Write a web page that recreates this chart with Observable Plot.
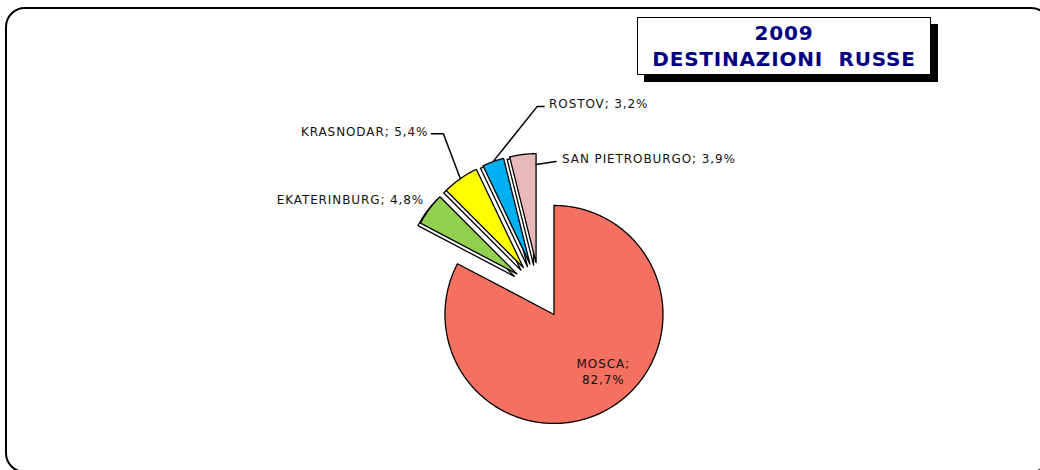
<!DOCTYPE html>
<html>
<head>
<meta charset="utf-8">
<script src="https://cdn.jsdelivr.net/npm/d3@7"></script>
<script src="https://cdn.jsdelivr.net/npm/@observablehq/plot@0.6"></script>
<style>
  html, body { margin: 0; padding: 0; background: #fff; overflow: hidden; }
  body { width: 1040px; height: 470px; position: relative; }
  #frame { position: absolute; left: 5px; top: 7px; width: 1046px; height: 466px;
           border: 2px solid #000; border-radius: 20px; box-sizing: border-box; }
  #chart { position: absolute; left: 0; top: 0; }
  #chart svg text { letter-spacing: 0.9px; }
  #title { position: absolute; left: 637px; top: 17px; width: 294px; height: 58px;
           box-sizing: border-box; border: 1px solid #000; background: #fff;
           box-shadow: 7px 7px 0 #000; text-align: center; color: #000080;
           font-family: "DejaVu Sans", Verdana, sans-serif; font-weight: bold;
           font-size: 20px; letter-spacing: 0.8px; line-height: 26px; padding-top: 2px; white-space: pre; }
</style>
</head>
<body>
<div id="frame"></div>
<div id="chart"></div>
<div id="title">2009
DESTINAZIONI  RUSSE</div>
<script>
// ---- data ----
const categories = ["MOSCA", "EKATERINBURG", "KRASNODAR", "ROSTOV", "SAN PIETROBURGO"];
const shares = [82.7, 4.8, 5.4, 3.2, 3.9];
const colors = ["#F47060", "#92D050", "#FFFF00", "#00B0F0", "#E6B8B7"];

// ---- layout ----
const W = 1040, H = 470;
const R = 109;            // pie radius in px
const CX = 539, CY = 290; // pie centre in px
const EXPLODE = 28 / R;   // explosion distance in radius units
const rad = Math.PI / 180;

const total = d3.sum(shares);
let acc = 0;
const slices = categories.map((name, i) => {
  const a0 = acc / total * 360;
  acc += shares[i];
  const a1 = acc / total * 360;
  const mid = (a0 + a1) / 2;
  const ax = EXPLODE * Math.sin(mid * rad), ay = -EXPLODE * Math.cos(mid * rad);
  return {name, value: shares[i], color: colors[i], a0, a1, mid, ax, ay,
          label: name + "; " + shares[i].toFixed(1).replace(".", ",") + "%"};
});

function polygon(s) {
  const pts = [{x: s.ax, y: s.ay}];
  const n = Math.max(2, Math.ceil((s.a1 - s.a0) / 0.5));
  for (let k = 0; k <= n; k++) {
    const a = (s.a0 + (s.a1 - s.a0) * k / n) * rad;
    pts.push({x: s.ax + Math.sin(a), y: s.ay - Math.cos(a)});
  }
  return pts;
}
function at(s, angle, r) {
  return {x: s.ax + r * Math.sin(angle * rad), y: s.ay - r * Math.cos(angle * rad)};
}
const px = v => v / R; // px offset -> radius units

// leader / label layout (offsets in px)
const labelLayout = {
  "EKATERINBURG":    {angle: "mid", r: 1, leader: null, text: [-5, -9], anchor: "end"},
  "KRASNODAR":       {angle: "mid", r: 1, leader: [[-17, -45], [-12, 0]], text: [-3, -2], anchor: "end"},
  "ROSTOV":          {angle: "mid", r: 1, leader: [[44, -55], [7, 0]], text: [5, -2], anchor: "start"},
  "SAN PIETROBURGO": {angle: "end", r: 0.9, leader: [[20, -3], [0, 0]], text: [6, -2], anchor: "start"}
};

const leaders = [], labels = [];
for (const s of slices) {
  const L = labelLayout[s.name];
  if (!L) continue;
  let p = at(s, L.angle === "mid" ? s.mid : s.a1, L.r);
  if (L.leader) {
    leaders.push({name: s.name, x: p.x, y: p.y});
    for (const [dx, dy] of L.leader) {
      p = {x: p.x + px(dx), y: p.y + px(dy)};
      leaders.push({name: s.name, x: p.x, y: p.y});
    }
  }
  labels.push({name: s.name, text: s.label, anchor: L.anchor,
               x: p.x + px(L.text[0]), y: p.y + px(L.text[1])});
}
const mosca = slices[0];
const moscaPos = at(mosca, mosca.mid, 0.68);
const moscaLabel = [{x: moscaPos.x + px(11), y: moscaPos.y + px(-7),
                     text: mosca.name + ";\n" + mosca.label.split("; ")[1]}];

const marks = [];
// shadows of the small exploded slices
for (const s of slices.slice(1)) {
  marks.push(Plot.line(polygon(s), {x: "x", y: "y", curve: "linear-closed",
    fill: "white", stroke: "black", strokeWidth: 1.3, dx: -2.5, dy: 2.5}));
}
for (const s of slices) {
  marks.push(Plot.line(polygon(s), {x: "x", y: "y", curve: "linear-closed",
    fill: s.color, stroke: "black", strokeWidth: 1.3}));
}
marks.push(Plot.line(leaders, {x: "x", y: "y", z: "name", stroke: "black", strokeWidth: 1.5}));
marks.push(Plot.text(labels.filter(d => d.anchor === "end"),
  {x: "x", y: "y", text: "text", textAnchor: "end", fontSize: 12, fill: "#111"}));
marks.push(Plot.text(labels.filter(d => d.anchor === "start"),
  {x: "x", y: "y", text: "text", textAnchor: "start", fontSize: 12, fill: "#111"}));
marks.push(Plot.text(moscaLabel,
  {x: "x", y: "y", text: "text", textAnchor: "middle", fontSize: 12, lineHeight: 1.38, fill: "#111"}));

const chart = Plot.plot({
  width: W, height: H, margin: 0,
  style: {fontFamily: "DejaVu Sans, Verdana, sans-serif", background: "transparent", overflow: "visible"},
  x: {domain: [-CX / R, (W - CX) / R], range: [0, W], axis: null},
  y: {domain: [-CY / R, (H - CY) / R], range: [0, H], axis: null},
  marks
});
document.getElementById("chart").appendChild(chart);
</script>
</body>
</html>
